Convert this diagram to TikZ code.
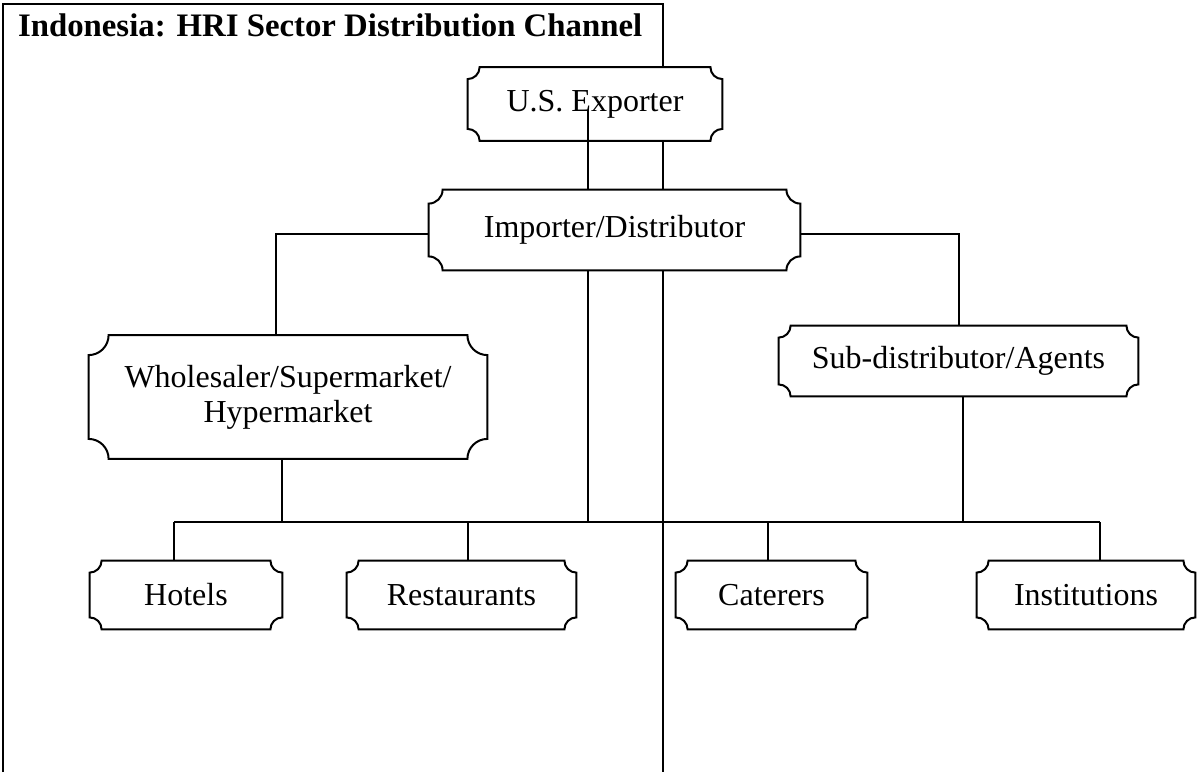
\documentclass[tikz,border=0pt]{standalone}
\usepackage{fontspec}
\setmainfont{Liberation Serif}
\usetikzlibrary{backgrounds}

\tikzset{
  chan/.style={inner sep=0pt, align=center, font=\fontsize{16}{17.5}\selectfont},
  link/.style={line width=1pt},
}

% plaque outline round a named node, optional corner radius
\newcommand{\plaque}[2][6pt]{%
  \draw[link, fill=white] ([yshift=-#1]#2.north west) arc[start angle=270, end angle=360, radius=#1]
    -- ([xshift=-#1]#2.north east) arc[start angle=180, end angle=270, radius=#1]
    -- ([yshift=#1]#2.south east) arc[start angle=90, end angle=180, radius=#1]
    -- ([xshift=#1]#2.south west) arc[start angle=0, end angle=90, radius=#1]
    -- cycle;}

\begin{document}
\begin{tikzpicture}[x=0.5pt, y=-0.5pt]
    \useasboundingbox (0,0) rectangle (1197,772);

    \node[anchor=base west, font=\fontsize{16.4}{18}\selectfont\bfseries] (title) at (11,36)
      {Indonesia: HRI Sector Distribution Channel};

    \node[chan, minimum width=127pt, minimum height=36.5pt] (exporter) at (595,104) {U.S. Exporter};
    \node[chan, minimum width=185.5pt, minimum height=40pt] (importer) at (614.5,230) {Importer/Distributor};
    \node[chan, minimum width=199pt, minimum height=61.5pt] (wholesaler) at (288,397)
      {Wholesaler/Supermarket/\\Hypermarket};
    \node[chan, minimum width=179.5pt, minimum height=35pt] (subdist) at (958.5,361) {Sub-distributor/Agents};

    \node[chan, minimum width=96pt, minimum height=34pt] (hotels) at (186,595) {Hotels};
    \node[chan, minimum width=114.5pt, minimum height=34pt] (restaurants) at (461.5,595) {Restaurants};
    \node[chan, minimum width=95.5pt, minimum height=34pt] (caterers) at (771.5,595) {Caterers};
    \node[chan, minimum width=109pt, minimum height=34pt] (institutions) at (1086,595) {Institutions};

    \begin{pgfonlayer}{background}
      % frame
      \draw[link] (3,772) -- (3,4) -- (663,4) -- (663,772);
      \plaque{exporter}
      \plaque[7pt]{importer}
      \plaque[10pt]{wholesaler}
      \plaque{subdist}
      \foreach \n in {hotels,restaurants,caterers,institutions}
        \plaque{\n};
    \end{pgfonlayer}

    \coordinate (trunk) at (588,110);
    \coordinate (bus) at (0,522);

    \draw[link] (trunk) -- (trunk |- importer.north);
    \draw[link] ([yshift=-2pt]importer.west) -| ([xshift=-6pt]wholesaler.north);
    \draw[link] ([yshift=-2pt]importer.east) -| (subdist.north);
    \draw[link] (importer.south -| trunk) -- (bus -| trunk);
    \draw[link] ([xshift=-3pt]wholesaler.south) coordinate (ws) -- (ws |- bus);
    \draw[link] ([xshift=2pt]subdist.south) coordinate (sd) -- (sd |- bus);

    \foreach \n/\s in {hotels/-6pt, restaurants/3.25pt, caterers/-1.75pt, institutions/7pt}
      \draw[link] ([xshift=\s]\n.north) coordinate (d-\n) -- (d-\n |- bus);
    \draw[link] (d-hotels |- bus) -- (d-institutions |- bus);
\end{tikzpicture}
\end{document}
